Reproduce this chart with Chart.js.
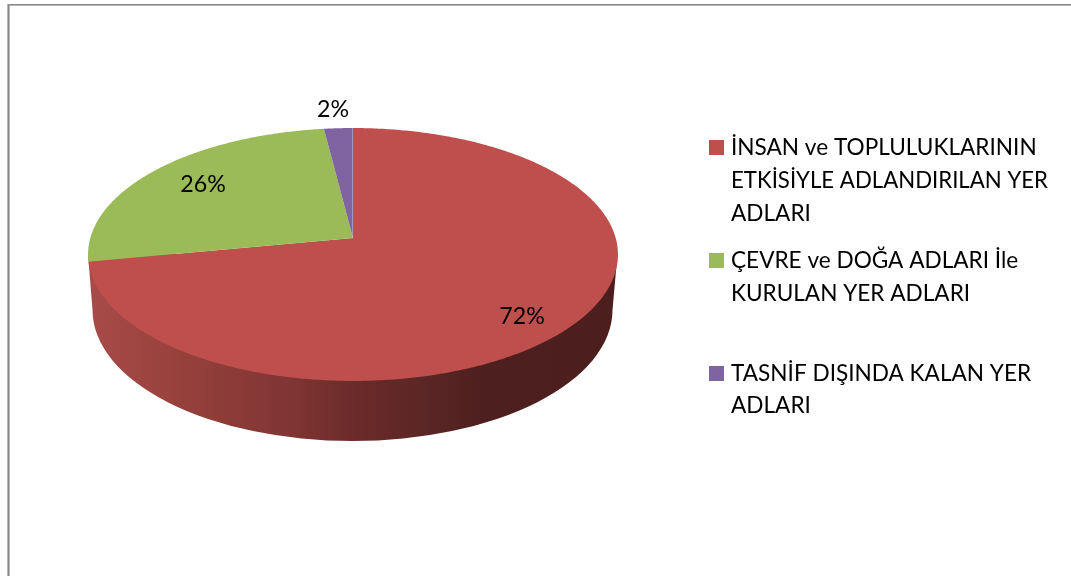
<!DOCTYPE html>
<html lang="tr">

<head>
    <meta charset="UTF-8">
    <title>Yer Adları</title>
    <script src="https://cdn.jsdelivr.net/npm/chart.js@4/dist/chart.umd.min.js"></script>
    <style>
        html, body { margin: 0; padding: 0; background: #fff; }
        canvas { display: block; }
    </style>
</head>

<body>
    <canvas id="chart" width="1071" height="576"></canvas>

    <script>
        // data
        const categories = [
            ['İNSAN ve TOPLULUKLARININ', 'ETKİSİYLE ADLANDIRILAN YER', 'ADLARI'],
            ['ÇEVRE ve DOĞA ADLARI İle', 'KURULAN YER ADLARI'],
            ['TASNİF DIŞINDA KALAN YER', 'ADLARI']
        ]
        const values = [72, 26, 2]
        const colors = ['#BE4F4D', '#9BBB59', '#8064A2']

        // layout of the tilted pie (apex, radii, perspective)
        const apexX = 353, apexY = 238, radX = 262.7, radY = 124.3, persp = 0.1304
        const labelPos = [[522, 317], [203, 185], [333, 110]]
        const legendY = [[148, 181, 214], [261, 294], [374, 406]]
        const swatchY = [140, 253, 366]
        const font = '22.6px Lato'
        const labelFont = '23.2px Lato'

        function project(angle) {
            const u = Math.cos(angle), v = Math.sin(angle)
            const w = 1 - persp * v
            return [apexX + radX * u / w, apexY + radY * v / w]
        }

        function drawFrame(ctx) {
            ctx.fillStyle = '#878787'
            ctx.fillRect(8, 4, 1063, 1)
            ctx.fillRect(8, 4, 1, 572)
            ctx.fillStyle = '#b8b8b8'
            ctx.fillRect(9, 5, 1062, 1)
            ctx.fillRect(7, 4, 1, 572)
            ctx.fillRect(9, 5, 1, 571)
        }

        function drawWall(ctx) {
            const grad = ctx.createLinearGradient(90, 0, 612, 0)
            grad.addColorStop(0, '#A84B48')
            grad.addColorStop(0.2, '#943F3B')
            grad.addColorStop(0.4, '#7D3432')
            grad.addColorStop(0.52, '#692A29')
            grad.addColorStop(0.65, '#5A2625')
            grad.addColorStop(0.75, '#4D1F1E')
            grad.addColorStop(1, '#4C1F1E')
            ctx.beginPath()
            ctx.moveTo(88, 254)
            ctx.ellipse(352.5, 310, 260, 131, 0, Math.PI, 0, true)
            ctx.lineTo(617.5, 254)
            ctx.closePath()
            ctx.fillStyle = grad
            ctx.fill()
        }

        function drawSlice(ctx, arc, color) {
            ctx.beginPath()
            ctx.moveTo(apexX, apexY)
            const steps = Math.ceil((arc.endAngle - arc.startAngle) / 0.01)
            for (let i = 0; i <= steps; i++) {
                const p = project(arc.startAngle + (arc.endAngle - arc.startAngle) * i / steps)
                ctx.lineTo(p[0], p[1])
            }
            ctx.closePath()
            ctx.fillStyle = color
            ctx.fill()
        }

        const tiltedPie = {
            id: 'tiltedPie',
            beforeDatasetDraw(chart, args) {
                const ctx = chart.ctx
                const arcs = args.meta.data
                ctx.save()
                drawFrame(ctx)
                drawWall(ctx)
                arcs.forEach((arc, i) => drawSlice(ctx, arc, colors[i]))

                // light seam where the first slice starts
                const top = project(arcs[0].startAngle)
                ctx.strokeStyle = 'rgba(255,255,255,0.3)'
                ctx.lineWidth = 1
                ctx.beginPath()
                ctx.moveTo(apexX - 0.5, apexY)
                ctx.lineTo(top[0] - 0.5, top[1])
                ctx.stroke()

                // percent labels
                ctx.font = labelFont
                ctx.fillStyle = '#000'
                ctx.textAlign = 'center'
                ctx.textBaseline = 'middle'
                const total = values.reduce((a, b) => a + b, 0)
                values.forEach((v, i) => {
                    ctx.fillText(Math.round(v / total * 100) + '%', labelPos[i][0], labelPos[i][1])
                })

                // legend
                ctx.font = font
                ctx.textAlign = 'left'
                categories.forEach((lines, i) => {
                    ctx.fillStyle = colors[i]
                    ctx.fillRect(709, swatchY[i], 15, 15)
                    ctx.fillStyle = '#000'
                    lines.forEach((line, j) => ctx.fillText(line, 731, legendY[i][j], 317))
                })
                ctx.restore()
                return false
            }
        }

        const myChart = new Chart(document.getElementById('chart').getContext('2d'), {
            type: 'pie',
            data: {
                labels: categories.map(c => c.join(' ')),
                datasets: [{
                    data: values,
                    backgroundColor: colors,
                    borderWidth: 0
                }]
            },
            options: {
                responsive: false,
                animation: false,
                plugins: {
                    legend: { display: false },
                    tooltip: { enabled: false }
                }
            },
            plugins: [tiltedPie]
        })
    </script>

</body>

</html>
